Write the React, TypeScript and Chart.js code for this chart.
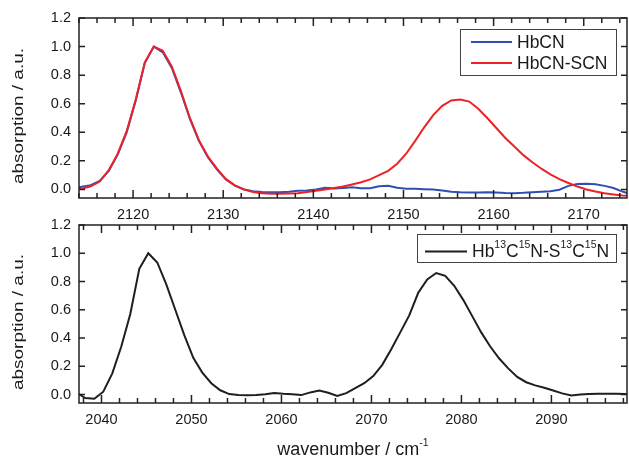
import { useEffect, useRef } from "react";
import { Chart, registerables } from "chart.js";

Chart.register(...registerables);

const FONT = "'Liberation Sans', Arial, Helvetica, sans-serif";

// ---------- top panel data ----------
const topWavenumbers = [
  2113.3, 2114.3, 2115.3, 2116.3, 2117.3, 2118.3, 2119.3, 2120.3, 2121.3, 2122.3,
  2123.3, 2124.3, 2125.3, 2126.3, 2127.3, 2128.3, 2129.3, 2130.3, 2131.3, 2132.3,
  2133.3, 2134.3, 2135.3, 2136.3, 2137.3, 2138.3, 2139.3, 2140.3, 2141.3, 2142.3,
  2143.3, 2144.3, 2145.3, 2146.3, 2147.3, 2148.3, 2149.3, 2150.3, 2151.3, 2152.3,
  2153.3, 2154.3, 2155.3, 2156.3, 2157.3, 2158.3, 2159.3, 2160.3, 2161.3, 2162.3,
  2163.3, 2164.3, 2165.3, 2166.3, 2167.3, 2168.3, 2169.3, 2170.3, 2171.3, 2172.3,
  2173.3, 2174.3, 2175.3,
];

const hbcn = [
  0.01, 0.018, 0.03, 0.06, 0.13, 0.245, 0.4, 0.625, 0.885, 1.0,
  0.96, 0.85, 0.68, 0.495, 0.34, 0.225, 0.14, 0.07, 0.027, 0.0,
  -0.012, -0.018, -0.02, -0.02, -0.016, -0.01, -0.008, 0.0, 0.012, 0.006,
  0.01, 0.015, 0.008, 0.008, 0.022, 0.026, 0.012, 0.005, 0.004, 0.002,
  0.0, -0.008, -0.016, -0.02, -0.022, -0.022, -0.02, -0.022, -0.025, -0.026,
  -0.024, -0.02, -0.016, -0.012, -0.002, 0.025, 0.038, 0.04, 0.036, 0.025,
  0.01, -0.015, -0.035,
];

const hbcnScn = [
  -0.005, 0.005, 0.022, 0.055, 0.135, 0.25, 0.41, 0.63, 0.89, 1.0,
  0.97, 0.86, 0.69, 0.5, 0.345, 0.23, 0.145, 0.072, 0.028, 0.0,
  -0.018, -0.027, -0.03, -0.03, -0.028, -0.026, -0.018, -0.01, 0.0, 0.01,
  0.02, 0.035, 0.05, 0.07, 0.1, 0.13, 0.18, 0.25, 0.34, 0.435,
  0.52, 0.585, 0.623, 0.63, 0.615, 0.565, 0.5, 0.43, 0.36, 0.3,
  0.24, 0.19, 0.145, 0.105, 0.072, 0.045, 0.02, 0.0, -0.015, -0.027,
  -0.035, -0.042, -0.045,
];

// ---------- bottom panel data ----------
const bottomWavenumbers = [
  2036.2, 2037.2, 2038.2, 2039.2, 2040.2, 2041.2, 2042.2, 2043.2, 2044.2, 2045.2,
  2046.2, 2047.2, 2048.2, 2049.2, 2050.2, 2051.2, 2052.2, 2053.2, 2054.2, 2055.2,
  2056.2, 2057.2, 2058.2, 2059.2, 2060.2, 2061.2, 2062.2, 2063.2, 2064.2, 2065.2,
  2066.2, 2067.2, 2068.2, 2069.2, 2070.2, 2071.2, 2072.2, 2073.2, 2074.2, 2075.2,
  2076.2, 2077.2, 2078.2, 2079.2, 2080.2, 2081.2, 2082.2, 2083.2, 2084.2, 2085.2,
  2086.2, 2087.2, 2088.2, 2089.2, 2090.2, 2091.2, 2092.2, 2093.2, 2094.2, 2095.2,
  2096.2, 2097.2, 2098.2, 2099.2,
];

const hb13c15n = [
  0.03, 0.015, -0.025, -0.03, 0.02, 0.15, 0.34, 0.57, 0.89, 1.0,
  0.935, 0.78, 0.6, 0.42, 0.26, 0.155, 0.08, 0.03, 0.003, -0.004,
  -0.005, -0.004, 0.002, 0.01, 0.005, 0.002, -0.004, 0.015, 0.028, 0.012,
  -0.01, 0.01, 0.045, 0.08, 0.13, 0.21, 0.32, 0.44, 0.56, 0.72,
  0.815, 0.86, 0.84, 0.77, 0.67, 0.555, 0.44, 0.34, 0.255, 0.185,
  0.125, 0.087, 0.065, 0.048, 0.028, 0.008, -0.006, 0.0, 0.003, 0.006,
  0.006, 0.005, 0.003, 0.0,
];

const topXTicks = [2120, 2130, 2140, 2150, 2160, 2170];
const bottomXTicks = [2040, 2050, 2060, 2070, 2080, 2090];
const yTicks = [0.0, 0.2, 0.4, 0.6, 0.8, 1.0, 1.2];

const topSeriesNames = ["HbCN", "HbCN-SCN"];
const yTitle = "absorption / a.u.";

type Seg = { t: string; sup?: boolean };
const bottomLegendLabel: Seg[] = [
  { t: "Hb" }, { t: "13", sup: true }, { t: "C" }, { t: "15", sup: true },
  { t: "N-S" }, { t: "13", sup: true }, { t: "C" }, { t: "15", sup: true }, { t: "N" },
];
const xTitle: Seg[] = [{ t: "wavenumber / cm" }, { t: "-1", sup: true }];

const BLUE = "#2f4fb3";
const RED = "#ee2226";
const BLACK = "#1e1e1e";
const AXIS = "#222";

function drawSegs(ctx: CanvasRenderingContext2D, segs: Seg[], x: number, y: number, size: number, supSize: number, supRise: number) {
  let cx = x;
  for (const s of segs) {
    ctx.font = `${s.sup ? supSize : size}px ${FONT}`;
    ctx.fillText(s.t, cx, s.sup ? y - supRise : y);
    cx += ctx.measureText(s.t).width;
  }
  return cx - x;
}

function measureSegs(ctx: CanvasRenderingContext2D, segs: Seg[], size: number, supSize: number) {
  let w = 0;
  for (const s of segs) {
    ctx.font = `${s.sup ? supSize : size}px ${FONT}`;
    w += ctx.measureText(s.t).width;
  }
  return w;
}

const framePlugin = {
  id: "frameTicks",
  afterDraw(chart: any) {
    const { ctx, chartArea: a, scales } = chart;
    const x = scales.x;
    const y = scales.y;
    ctx.save();
    ctx.strokeStyle = AXIS;
    ctx.lineWidth = 1.5;
    ctx.strokeRect(a.left, a.top, a.right - a.left, a.bottom - a.top);
    ctx.beginPath();
    const start = Math.ceil(x.min / 2) * 2;
    for (let v = start; v <= x.max; v += 2) {
      const px = x.getPixelForValue(v);
      const len = v % 10 === 0 ? 8 : 5;
      ctx.moveTo(px, a.bottom);
      ctx.lineTo(px, a.bottom - len);
      ctx.moveTo(px, a.top);
      ctx.lineTo(px, a.top + len);
    }
    for (const v of yTicks) {
      const py = y.getPixelForValue(v);
      ctx.moveTo(a.left, py);
      ctx.lineTo(a.left + 6, py);
      ctx.moveTo(a.right, py);
      ctx.lineTo(a.right - 6, py);
    }
    ctx.stroke();

    // rotated y title (stretched along its length like the reference)
    ctx.fillStyle = "#1a1a1a";
    ctx.font = `15px ${FONT}`;
    const w = ctx.measureText(yTitle).width;
    const target = 136;
    ctx.translate(19, (a.top + a.bottom) / 2 + 8);
    ctx.rotate(-Math.PI / 2);
    ctx.scale(target / w, 1);
    ctx.textAlign = "center";
    ctx.textBaseline = "middle";
    ctx.fillText(yTitle, 0, 0);
    ctx.restore();
  },
};

const topLegendPlugin = {
  id: "topLegend",
  afterDraw(chart: any) {
    const { ctx, chartArea: a } = chart;
    const bx = a.right - 167;
    const by = a.top + 11;
    const bw = 156;
    const bh = 46;
    ctx.save();
    ctx.fillStyle = "#fff";
    ctx.fillRect(bx, by, bw, bh);
    ctx.strokeStyle = "#444";
    ctx.lineWidth = 1;
    ctx.strokeRect(bx + 0.5, by + 0.5, bw, bh);
    const rows = [
      { name: topSeriesNames[0], color: BLUE, y: by + 13 },
      { name: topSeriesNames[1], color: RED, y: by + 34 },
    ];
    for (const r of rows) {
      ctx.strokeStyle = r.color;
      ctx.lineWidth = 2;
      ctx.beginPath();
      ctx.moveTo(bx + 11, r.y);
      ctx.lineTo(bx + 52, r.y);
      ctx.stroke();
      ctx.fillStyle = "#1a1a1a";
      ctx.font = `17.5px ${FONT}`;
      ctx.textBaseline = "middle";
      ctx.textAlign = "left";
      ctx.fillText(r.name, bx + 57, r.y + 1);
    }
    ctx.restore();
  },
};

const bottomLegendPlugin = {
  id: "bottomLegend",
  afterDraw(chart: any) {
    const { ctx, chartArea: a } = chart;
    const bx = a.right - 210;
    const by = a.top + 9;
    const bw = 199;
    const bh = 28;
    ctx.save();
    ctx.fillStyle = "#fff";
    ctx.fillRect(bx, by, bw, bh);
    ctx.strokeStyle = "#444";
    ctx.lineWidth = 1;
    ctx.strokeRect(bx + 0.5, by + 0.5, bw, bh);
    const ly = by + 17.5;
    ctx.strokeStyle = BLACK;
    ctx.lineWidth = 2;
    ctx.beginPath();
    ctx.moveTo(bx + 8, ly);
    ctx.lineTo(bx + 50, ly);
    ctx.stroke();
    ctx.fillStyle = "#1a1a1a";
    ctx.textBaseline = "middle";
    ctx.textAlign = "left";
    drawSegs(ctx, bottomLegendLabel, bx + 55, ly + 1, 17.5, 10.5, 7);

    // x axis title
    ctx.textBaseline = "alphabetic";
    const tw = measureSegs(ctx, xTitle, 18, 10.5);
    const cx = (a.left + a.right) / 2;
    drawSegs(ctx, xTitle, cx - tw / 2, 455, 18, 10.5, 9);
    ctx.restore();
  },
};

function makeOptions(xMin: number, xMax: number, xTicks: number[], padding: any) {
  return {
    responsive: false,
    animation: false as const,
    devicePixelRatio: 1,
    layout: { padding },
    plugins: { legend: { display: false }, tooltip: { enabled: false } },
    elements: { point: { radius: 0 }, line: { tension: 0, borderWidth: 2 } },
    scales: {
      x: {
        type: "linear" as const,
        min: xMin,
        max: xMax,
        grid: { display: false, drawTicks: false },
        border: { display: false },
        afterBuildTicks: (s: any) => {
          s.ticks = xTicks.map((v) => ({ value: v }));
        },
        afterFit: (s: any) => {
          s.height = 30;
        },
        ticks: {
          font: { family: FONT, size: 14.5 },
          color: "#1a1a1a",
          padding: 8,
          maxRotation: 0,
          autoSkip: false,
          callback: (v: any) => String(v),
        },
      },
      y: {
        type: "linear" as const,
        min: -0.06,
        max: 1.2,
        grid: { display: false, drawTicks: false },
        border: { display: false },
        afterBuildTicks: (s: any) => {
          s.ticks = yTicks.map((v) => ({ value: v }));
        },
        afterFit: (s: any) => {
          s.width = 79;
        },
        ticks: {
          font: { family: FONT, size: 14.5 },
          color: "#1a1a1a",
          padding: 8,
          callback: (v: any) => Number(v).toFixed(1),
        },
      },
    },
  };
}

export default function App() {
  const topRef = useRef<HTMLCanvasElement>(null);
  const botRef = useRef<HTMLCanvasElement>(null);

  useEffect(() => {
    const c1 = new Chart(topRef.current!, {
      type: "line",
      data: {
        datasets: [
          {
            label: topSeriesNames[0],
            data: topWavenumbers.map((x, i) => ({ x, y: hbcn[i] })),
            borderColor: BLUE,
            order: 1,
            clip: 0,
          },
          {
            label: topSeriesNames[1],
            data: topWavenumbers.map((x, i) => ({ x, y: hbcnScn[i] })),
            borderColor: RED,
            order: 0,
            clip: 0,
          },
        ],
      },
      options: makeOptions(2114, 2174.8, topXTicks, { left: 0, top: 18, right: 2, bottom: 230 }) as any,
      plugins: [framePlugin, topLegendPlugin],
    });
    const c2 = new Chart(botRef.current!, {
      type: "line",
      data: {
        datasets: [
          {
            label: "Hb13C15N-S13C15N",
            data: bottomWavenumbers.map((x, i) => ({ x, y: hb13c15n[i] })),
            borderColor: BLACK,
            clip: 0,
          },
        ],
      },
      options: makeOptions(2037.5, 2098.4, bottomXTicks, { left: 0, top: 225, right: 2, bottom: 25 }) as any,
      plugins: [framePlugin, bottomLegendPlugin],
    });
    return () => {
      c1.destroy();
      c2.destroy();
    };
  }, []);

  return (
    <div style={{ position: "fixed", left: 0, top: 0, width: 629, height: 458, background: "#fff" }}>
      <canvas ref={topRef} width={629} height={458} style={{ position: "absolute", left: 0, top: 0 }} />
      <canvas ref={botRef} width={629} height={458} style={{ position: "absolute", left: 0, top: 0 }} />
    </div>
  );
}
